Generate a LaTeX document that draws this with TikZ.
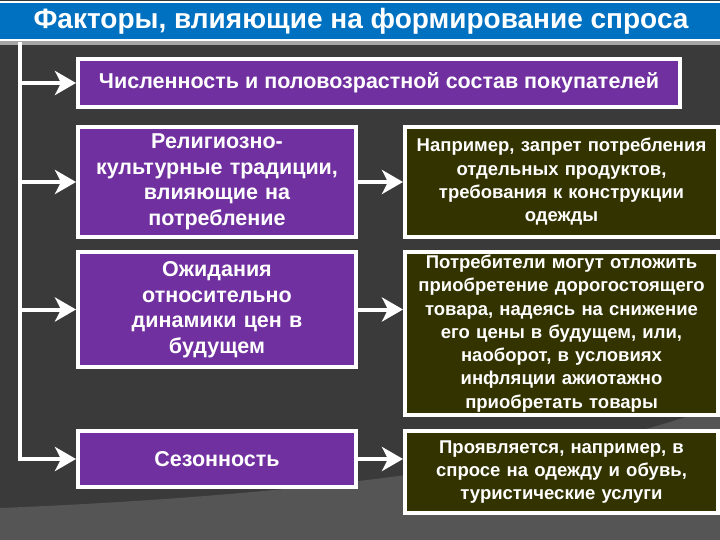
\documentclass[tikz,border=0pt]{standalone}
\usepackage{fontspec}
\setmainfont{Liberation Sans}
\usetikzlibrary{arrows.meta}
\definecolor{bgdark}{HTML}{3A3A3A}
\definecolor{bglight}{HTML}{555555}
\definecolor{titleblue}{HTML}{0070C0}
\definecolor{boxpurple}{HTML}{7030A0}
\definecolor{boxolive}{HTML}{333300}
\tikzset{
  factor/.style={draw=white, line width=4pt, fill=boxpurple, text=white,
    font=\bfseries\fontsize{21.5}{25.5}\selectfont, align=center, inner sep=0pt},
  example/.style={draw=white, line width=4pt, fill=boxolive, text=white,
    font=\bfseries\fontsize{18.5}{23.3}\selectfont, align=center, inner sep=0pt},
  link/.style={draw=white, line width=4pt,
    -{Stealth[length=21pt,width=24pt,inset=6pt]}},
}
\begin{document}
\begin{tikzpicture}[x=1pt,y=-1pt]
\useasboundingbox (0,0) rectangle (720,540);
% background
\fill[bgdark] (0,0) rectangle (720,540);
\fill[bglight] (0,508) .. controls (250,498) and (550,470) .. (720,405) -- (720,540) -- (0,540) -- cycle;
\fill[white!55!bgdark] (0,40) rectangle (720,45);
% title
\node[draw=white, line width=2pt, fill=titleblue, minimum width=724pt, minimum height=38pt,
  inner sep=0pt, text=white, font=\bfseries\fontsize{28}{32}\selectfont] (title) at (361,21)
  {Факторы, влияющие на формирование спроса};
% factor boxes
\node[factor, minimum width=602pt, minimum height=48pt] (f1) at (379,83)
  {Численность и половозрастной состав покупателей};
\node[factor, minimum width=278pt, minimum height=110pt, text width=270pt] (f2) at (217,182)
  {Религиозно-\\культурные традиции,\\влияющие на\\потребление};
\node[factor, minimum width=278pt, minimum height=115pt, text width=270pt] (f3) at (217,309.5)
  {Ожидания\\относительно\\динамики цен в\\будущем};
\node[factor, minimum width=278pt, minimum height=56pt, text width=270pt] (f4) at (217,459)
  {Сезонность};
% example boxes
\node[example, minimum width=313pt, minimum height=110pt, text width=306pt] (e2) at (561.5,182)
  {Например, запрет потребления\\отдельных продуктов,\\требования к конструкции\\одежды};
\node[example, minimum width=313pt, minimum height=163pt, text width=306pt] (e3) at (561.5,333.5)
  {Потребители могут отложить\\приобретение дорогостоящего\\товара, надеясь на снижение\\его цены в будущем, или,\\наоборот, в условиях\\инфляции ажиотажно\\приобретать товары};
\node[example, minimum width=313pt, minimum height=82pt, text width=306pt] (e4) at (561.5,472)
  {Проявляется, например, в\\спросе на одежду и обувь,\\туристические услуги};
% trunk and connectors
\coordinate (trunk) at (20,42);
\draw[link] (trunk) |- (f4.west);
\draw[link] (trunk |- f1.west) -- (f1.west);
\draw[link] (trunk |- f2.west) -- (f2.west);
\draw[link] (trunk |- f3.west) -- (f3.west);
\draw[link] (f2.east) -- (f2.east -| e2.west);
\draw[link] (f3.east) -- (f3.east -| e3.west);
\draw[link] (f4.east) -- (f4.east -| e4.west);
\end{tikzpicture}
\end{document}
